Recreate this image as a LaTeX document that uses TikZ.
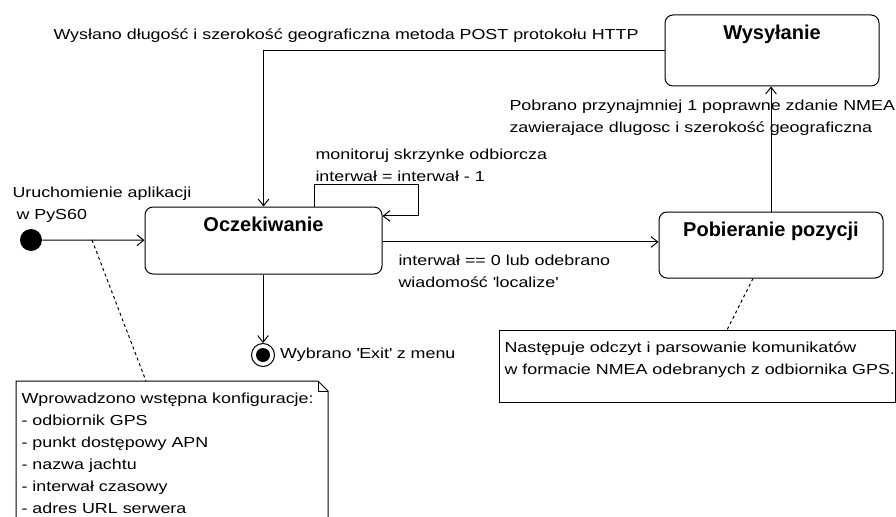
\documentclass[tikz,border=0pt]{standalone}
\usepackage{fontspec}
\setmainfont{Liberation Sans}[FakeStretch=1.23,Ligatures=NoCommon]
\newfontfamily\statefont{Liberation Sans}
\usetikzlibrary{arrows.meta,positioning}

\begin{document}
\begin{tikzpicture}[x=0.75pt,y=-0.75pt,line width=0.75pt,
    statebox/.style={draw,rounded corners=6pt,inner sep=0pt,text height=18pt,
        font=\statefont\bfseries\fontsize{15}{18}\selectfont},
    lbl/.style={inner sep=0pt,align=left,anchor=north west,
        font=\fontsize{10.9}{16.5}\selectfont},
    trans/.style={-{Straight Barb[length=5pt,width=8pt]}},
    noteline/.style={dash pattern=on 2.25pt off 2.25pt}]
    \useasboundingbox (0,0) rectangle (896,517);

    % states
    \node[statebox,minimum width=177.75pt,minimum height=50.25pt,text depth=32.25pt]
        (wait) at (263.5,240.5) {Oczekiwanie};
    \node[statebox,minimum width=160.5pt,minimum height=53.25pt,text height=18.75pt,text depth=34.5pt]
        (send) at (772,50.5) {Wysyłanie};
    \node[statebox,minimum width=168pt,minimum height=49.5pt,text depth=31.5pt]
        (fetch) at (771,245) {Pobieranie pozycji};

    \node[circle,fill,minimum size=16.5pt,inner sep=0pt] (start) at (31,240) {};
    \node[circle,draw,minimum size=17.25pt,inner sep=0pt,
        path picture={\fill (path picture bounding box.center) circle (5.25pt);}]
        (stop) at (263,355) {};

    % transitions
    \coordinate (loopcorner) at (418,184);
    \draw[trans] (start) -- (wait);
    \draw[trans] (send.west) -| (wait.north);
    \draw[trans] ([xshift=38.6pt]wait.north) |- (loopcorner) |- ([yshift=18.4pt]wait.east);
    \draw[trans] ([yshift=-1.1pt]wait.east) -- ([yshift=-1.1pt]wait.east -| fetch.west);
    \draw[trans] (fetch.north) -- (fetch.north |- send.south);
    \draw[trans] (stop |- wait.south) -- (stop);

    \node[lbl,anchor=base west] (postmsg) at (53,40)
        {Wysłano długość i szerokość geograficzna metoda POST protokołu HTTP};
    \node[lbl] (startmsg) at (12,186) {Uruchomienie aplikacji\\\hspace*{3pt}w PyS60};
    \node[lbl] (loopmsg) at (315,148) {monitoruj skrzynke odbiorcza\\interwał = interwał - 1};
    \node[lbl] (pollmsg) at (398,254)
        {interwał == 0 lub odebrano\\wiadomość \textquotesingle localize\textquotesingle};
    \node[lbl] (nmeamsg) at (509,99)
        {Pobrano przynajmniej 1 poprawne zdanie NMEA\\zawierajace dlugosc i szerokość geograficzna};
    \node[lbl,right=3.5pt of stop] (exitmsg) {Wybrano \textquotesingle Exit\textquotesingle{} z menu};

    % notes
    \draw (16,381) -- (318,381) -- (328,391) -- (328,530) -- (16,530) -- cycle;
    \draw (318,381) |- (328,391);
    \node[lbl] (cfg) at (21,392) {Wprowadzono wstępna konfiguracje:\\- odbiornik GPS\\
        - punkt dostępowy APN\\- nazwa jachtu\\- interwał czasowy\\- adres URL serwera};
    \draw (499,330) rectangle (895.5,402);
    \node[lbl] (gps) at (504,341)
        {Następuje odczyt i parsowanie komunikatów\\w formacie NMEA odebranych z odbiornika GPS.};

    \coordinate (cfgtick) at (92,240);
    \coordinate (cfgpin) at (146,381);
    \coordinate (gpspin) at (727,330);
    \draw[noteline] (cfgtick) -- (cfgpin);
    \draw[noteline] ([xshift=-13.5pt]fetch.south) -- (gpspin);
\end{tikzpicture}
\end{document}
